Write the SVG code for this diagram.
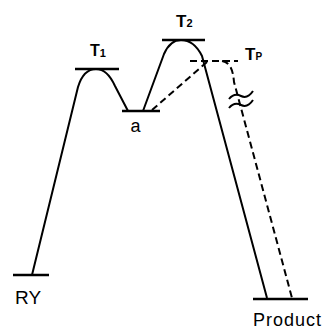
<svg xmlns="http://www.w3.org/2000/svg" width="325" height="330" viewBox="0 0 325 330">
<style>
.lvl{stroke:#000;stroke-width:2.6;fill:none}
.sol{stroke:#000;stroke-width:2;fill:none;stroke-linejoin:round}
.dsh{stroke:#000;stroke-width:2;fill:none;stroke-dasharray:7 4}
.lbl{font-family:"Liberation Sans",Arial,sans-serif;fill:#000}
.tl{font-weight:bold}
</style>
<rect width="325" height="330" fill="#fff"/>
<g id="connectors">
<path class="sol" d="M32,275 L78,87 C82,74 88,69 96,69 C104,69 110,75 115,86 L128,111"/>
<path class="sol" d="M143,111 L164,54 C168,45 174,40 181,40 C190,40 197,46 202,56 L267,298"/>
<path class="dsh" d="M152,110 L207,62"/>
<path class="dsh" d="M222,61 C230,62 233,70 234,82 L292,298"/>
<path class="sol" d="M229,99 C233,94 237,94 241,96 S249,97 253,91"/>
<path class="sol" d="M229,108 C233,103 237,103 241,105 S249,106 253,100"/>
</g>
<g id="RY">
<line class="lvl" x1="13" y1="275" x2="49" y2="275"/>
<text class="lbl" x="15" y="304" font-size="19">RY</text>
</g>
<g id="T1">
<line class="lvl" x1="75" y1="69" x2="119" y2="69"/>
<text class="lbl tl" x="90" y="56" font-size="16">T<tspan font-size="11" dy="1">1</tspan></text>
</g>
<g id="a">
<line class="lvl" x1="122" y1="111" x2="160" y2="111"/>
<text class="lbl" x="135.5" y="132" font-size="18" text-anchor="middle">a</text>
</g>
<g id="T2">
<line class="lvl" x1="162" y1="40" x2="205" y2="40"/>
<text class="lbl tl" x="176" y="27" font-size="17">T<tspan font-size="11">2</tspan></text>
</g>
<g id="Tp">
<line class="dsh" x1="190" y1="61" x2="238" y2="61" stroke-dasharray="6 3"/>
<text class="lbl tl" x="245" y="60" font-size="17">T<tspan font-size="10">P</tspan></text>
</g>
<g id="Product">
<line class="lvl" x1="253" y1="299" x2="308" y2="299"/>
<text class="lbl" x="253" y="326" font-size="18" textLength="68">Product</text>
</g>
</svg>
